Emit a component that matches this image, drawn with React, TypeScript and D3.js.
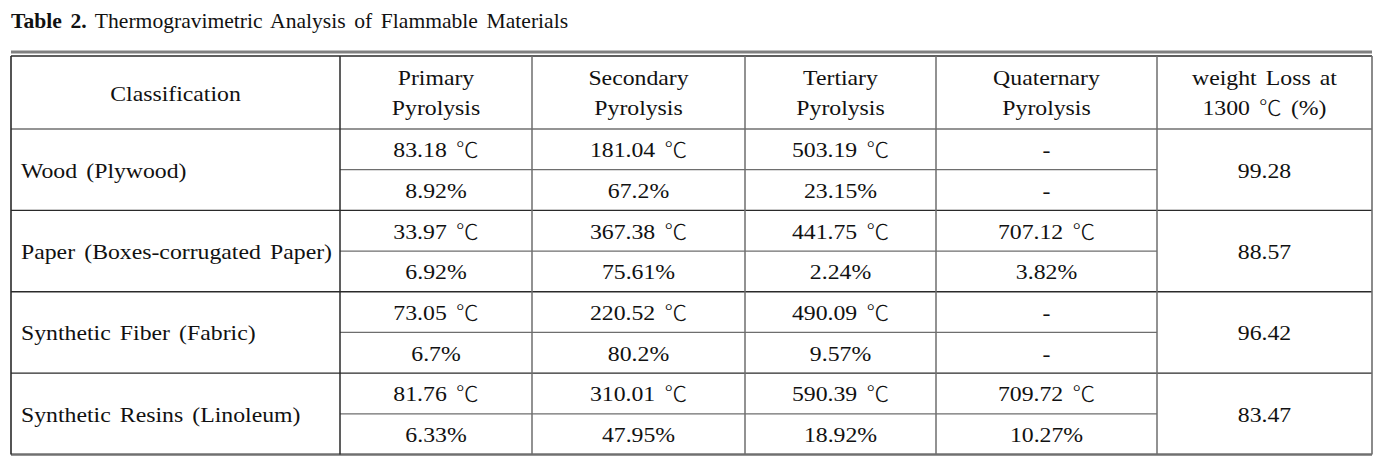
import React from "react";
import * as d3 from "d3";

const categories = [
  "Wood (Plywood)",
  "Paper (Boxes-corrugated Paper)",
  "Synthetic Fiber (Fabric)",
  "Synthetic Resins (Linoleum)",
];
const headers = [
  ["Classification"],
  ["Primary", "Pyrolysis"],
  ["Secondary", "Pyrolysis"],
  ["Tertiary", "Pyrolysis"],
  ["Quaternary", "Pyrolysis"],
  ["weight Loss at", "1300 ℃ (%)"],
];
const temps = [
  ["83.18 ℃", "181.04 ℃", "503.19 ℃", "-"],
  ["33.97 ℃", "367.38 ℃", "441.75 ℃", "707.12 ℃"],
  ["73.05 ℃", "220.52 ℃", "490.09 ℃", "-"],
  ["81.76 ℃", "310.01 ℃", "590.39 ℃", "709.72 ℃"],
];
const percents = [
  ["8.92%", "67.2%", "23.15%", "-"],
  ["6.92%", "75.61%", "2.24%", "3.82%"],
  ["6.7%", "80.2%", "9.57%", "-"],
  ["6.33%", "47.95%", "18.92%", "10.27%"],
];
const weightLoss = ["99.28", "88.57", "96.42", "83.47"];

const W = 1392;
const H = 457;
const colEdges = [11, 340, 532, 745, 936, 1157, 1372];
const top = 56;
const headBottom = 129;
const bottom = 454.5;
const SX = 1.08;
const FONT = "'Liberation Serif', 'Times New Roman', serif";
const CJK = "'Noto Sans CJK KR', 'Noto Sans CJK SC', sans-serif";

function renderParts(s: string) {
  const parts = s.split("℃");
  const out: any[] = [];
  parts.forEach((p, i) => {
    out.push(<tspan key={"p" + i}>{p}</tspan>);
    if (i < parts.length - 1)
      out.push(
        <tspan key={"c" + i} fontFamily={CJK} fontWeight={300} fontSize={21}>
          ℃
        </tspan>
      );
  });
  return out;
}

function T({ x, y, anchor = "middle", children, size = 22 }: any) {
  return (
    <g transform={`translate(${x},${y}) scale(${SX},1)`}>
      <text
        textAnchor={anchor}
        fontFamily={FONT}
        fontSize={size}
        fill="#111"
        wordSpacing={3}
        style={{ whiteSpace: "pre" }}
      >
        {renderParts(String(children))}
      </text>
    </g>
  );
}

export default function App() {
  const y = d3
    .scaleLinear()
    .domain([0, categories.length * 2])
    .range([headBottom, bottom]);
  const cx = (i: number) => (colEdges[i] + colEdges[i + 1]) / 2;
  const lineGray = "#6e6e6e";
  const lineDark = "#2a2a2a";
  const off = 8;

  return (
    <svg
      width={W}
      height={H}
      style={{ position: "fixed", left: 0, top: 0, background: "#fff" }}
    >
      <rect x={0} y={0} width={W} height={H} fill="#fff" />
      <g transform={`translate(11,28) scale(1.08,1)`}>
        <text fontFamily={FONT} fontSize={20} fill="#111" wordSpacing={3} style={{ whiteSpace: "pre" }}>
          <tspan fontWeight="bold">Table 2.</tspan>
          <tspan>{" Thermogravimetric Analysis of Flammable Materials"}</tspan>
        </text>
      </g>

      <line x1={colEdges[0]} x2={colEdges[6]} y1={52} y2={52} stroke="#808080" strokeWidth={3} />
      <line x1={colEdges[0]} x2={colEdges[6]} y1={top} y2={top} stroke={lineDark} strokeWidth={1.5} />
      <line x1={colEdges[0]} x2={colEdges[6]} y1={headBottom} y2={headBottom} stroke={lineDark} strokeWidth={1.2} />

      {d3.range(1, categories.length * 2).map((k) => {
        const major = k % 2 === 0;
        return (
          <line
            key={k}
            x1={major ? colEdges[0] : colEdges[1]}
            x2={major ? colEdges[6] : colEdges[5]}
            y1={y(k)}
            y2={y(k)}
            stroke={major ? lineDark : lineGray}
            strokeWidth={1.3}
          />
        );
      })}
      <line x1={colEdges[0]} x2={colEdges[6]} y1={bottom} y2={bottom} stroke="#707070" strokeWidth={2.5} />

      {colEdges.map((x, i) => (
        <line
          key={i}
          x1={x}
          x2={x}
          y1={top}
          y2={bottom}
          stroke={i === 0 || i === 1 ? lineDark : lineGray}
          strokeWidth={i === 0 || i === 6 ? 1.6 : 1.5}
        />
      ))}

      {headers.map((h, i) =>
        h.length === 1 ? (
          <T key={i} x={cx(i)} y={100.5}>{h[0]}</T>
        ) : (
          <g key={i}>
            <T x={cx(i)} y={85}>{h[0]}</T>
            <T x={cx(i)} y={115}>{h[1]}</T>
          </g>
        )
      )}

      {categories.map((c, r) => {
        const y0 = y(r * 2);
        const y1 = y(r * 2 + 1);
        const y2 = y(r * 2 + 2);
        return (
          <g key={c}>
            <T x={21} y={(y0 + y2) / 2 + off} anchor="start">{c}</T>
            {temps[r].map((v, j) => (
              <T key={"t" + j} x={cx(j + 1)} y={(y0 + y1) / 2 + off}>{v}</T>
            ))}
            {percents[r].map((v, j) => (
              <T key={"p" + j} x={cx(j + 1)} y={(y1 + y2) / 2 + off}>{v}</T>
            ))}
            <T x={cx(5)} y={(y0 + y2) / 2 + off}>{weightLoss[r]}</T>
          </g>
        );
      })}
    </svg>
  );
}
